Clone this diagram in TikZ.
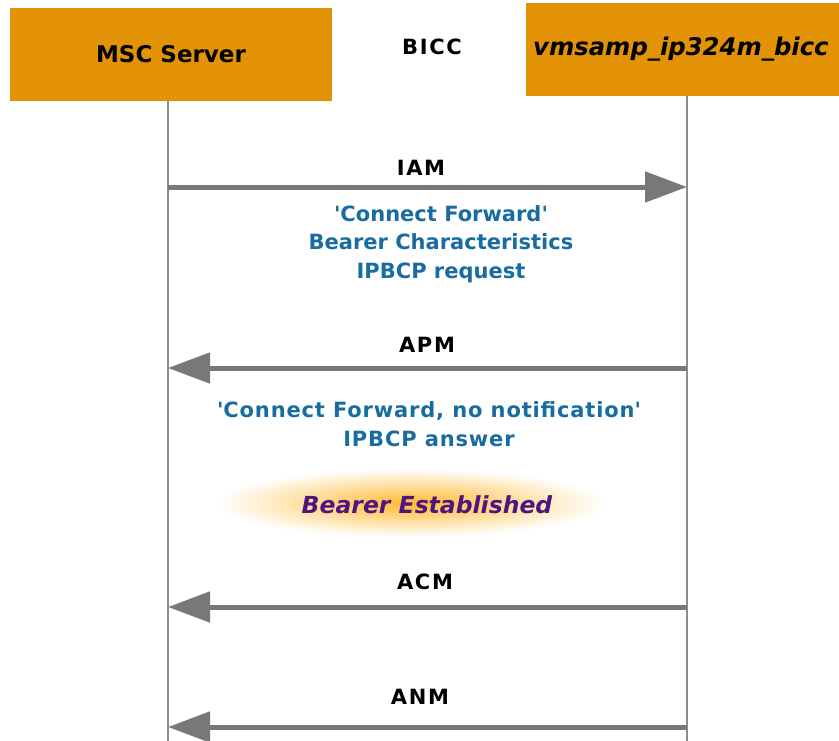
\documentclass[tikz,border=0pt]{standalone}
\usepackage{fontspec}
\setmainfont{DejaVu Sans}
\usetikzlibrary{arrows.meta}
\definecolor{boxorange}{RGB}{227,146,6}
\definecolor{msgblue}{RGB}{24,108,160}
\definecolor{estpurple}{RGB}{78,20,128}
\definecolor{arrowgray}{RGB}{120,120,120}
\definecolor{lifegray}{RGB}{140,140,140}
\definecolor{glow}{RGB}{255,185,50}
\tikzset{
  entity/.style={fill=boxorange, draw=none, inner sep=0pt, font=\fontsize{23}{26}\selectfont\bfseries},
  lifeline/.style={draw=lifegray, line width=2.5pt},
  msg/.style={draw=arrowgray, line width=5pt, -{Triangle[length=42pt,width=30pt]}},
  msglabel/.style={font=\fontsize{21}{24}\selectfont\bfseries\addfontfeature{LetterSpace=8}, text=black},
  note/.style={font=\fontsize{21}{28.5}\selectfont\bfseries, text=msgblue, align=center},
  estlabel/.style={font=\fontsize{23.5}{26}\selectfont\bfseries\itshape, text=estpurple}
}
\begin{document}
\begin{tikzpicture}[x=1pt,y=-1pt]
\clip (0,0) rectangle (839,740);
\fill[white] (0,0) rectangle (839,740);
% entities
\node[entity, minimum width=322pt, minimum height=93pt] (msc) at (171,54.5) {MSC Server};
\node[entity, minimum width=340pt, minimum height=93pt, anchor=north west] (vm) at (526,3) {};
\node[font=\fontsize{24.3}{27}\selectfont\bfseries\itshape, anchor=west, inner sep=0pt] (vmtext) at (533,49) {vmsamp\_ip324m\_bicc};
\node[msglabel] (bicc) at (432,47) {BICC};
% lifelines
\coordinate (mscend) at (168,742);
\coordinate (vmend) at (687,742);
\draw[lifeline] (168,101) -- (mscend);
\draw[lifeline] (687,96) -- (vmend);
% messages
\coordinate (iamA) at (168,187); \coordinate (iamB) at (687,187);
\draw[msg] (iamA) -- (iamB);
\node[msglabel] (iam) at (421,168) {IAM};
\node[note] (iamnote) at (441,244) {\textquotesingle Connect Forward\textquotesingle\\Bearer Characteristics\\IPBCP request};

\coordinate (apmA) at (687,368); \coordinate (apmB) at (168,368);
\draw[msg] (apmA) -- (apmB);
\node[msglabel] (apm) at (427,345) {APM};
\node[note, font=\fontsize{21}{28.5}\selectfont\bfseries\addfontfeature{LetterSpace=4}] (apmnote) at (429,424) {\textquotesingle Connect Forward, no notification\textquotesingle\\IPBCP answer};

\shade[inner color=glow, outer color=white] (410,503) ellipse (195pt and 34pt);
\node[estlabel] (est) at (427,505) {Bearer Established};

\coordinate (acmA) at (687,607); \coordinate (acmB) at (168,607);
\draw[msg] (acmA) -- (acmB);
\node[msglabel] (acm) at (425,582) {ACM};

\coordinate (anmA) at (687,727); \coordinate (anmB) at (168,727);
\draw[msg] (anmA) -- (anmB);
\node[msglabel] (anm) at (420,697) {ANM};
\end{tikzpicture}
\end{document}
